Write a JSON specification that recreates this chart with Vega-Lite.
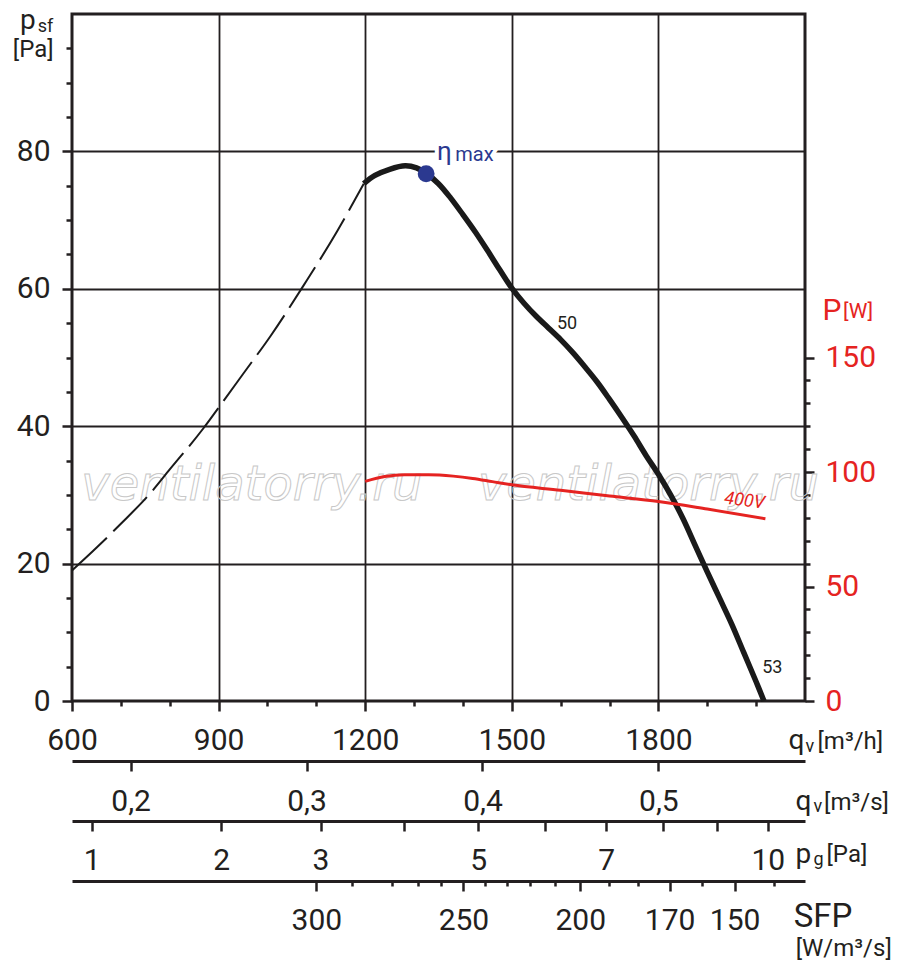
{
  "$schema": "https://vega.github.io/schema/vega-lite/v6.json",
  "width": 733,
  "height": 687,
  "autosize": "none",
  "padding": {"left": 72, "top": 14, "right": 95, "bottom": 266},
  "config": {
    "view": {"stroke": "#231f20", "strokeWidth": 3},
    "font": "Roboto",
    "axis": {
      "labelFont": "Roboto",
      "labelFontSize": 30,
      "labelColor": "#231f20",
      "tickColor": "#231f20",
      "tickWidth": 2.5,
      "domainColor": "#231f20",
      "domainWidth": 3,
      "gridColor": "#231f20",
      "gridWidth": 1.8
    }
  },
  "datasets": {
    "pressure": [
      {"q": 600, "p": 19.0, "seg": "dashed"},
      {"q": 650, "p": 22.3, "seg": "dashed"},
      {"q": 700, "p": 25.8, "seg": "dashed"},
      {"q": 761, "p": 30.3, "seg": "dashed"},
      {"q": 800, "p": 33.7, "seg": "dashed"},
      {"q": 869, "p": 39.7, "seg": "dashed"},
      {"q": 900, "p": 42.7, "seg": "dashed"},
      {"q": 950, "p": 47.6, "seg": "dashed"},
      {"q": 1006, "p": 53.1, "seg": "dashed"},
      {"q": 1074, "p": 60.5, "seg": "dashed"},
      {"q": 1142, "p": 68.3, "seg": "dashed"},
      {"q": 1197, "p": 75.3, "seg": "dashed"},
      {"q": 1197, "p": 75.3, "seg": "solid"},
      {"q": 1220, "p": 76.5, "seg": "solid"},
      {"q": 1250, "p": 77.4, "seg": "solid"},
      {"q": 1282, "p": 77.9, "seg": "solid"},
      {"q": 1305, "p": 77.6, "seg": "solid"},
      {"q": 1325, "p": 76.8, "seg": "solid"},
      {"q": 1350, "p": 75.3, "seg": "solid"},
      {"q": 1375, "p": 73.2, "seg": "solid"},
      {"q": 1400, "p": 70.8, "seg": "solid"},
      {"q": 1425, "p": 68.3, "seg": "solid"},
      {"q": 1450, "p": 65.6, "seg": "solid"},
      {"q": 1475, "p": 62.8, "seg": "solid"},
      {"q": 1500, "p": 60.1, "seg": "solid"},
      {"q": 1525, "p": 57.9, "seg": "solid"},
      {"q": 1550, "p": 56.0, "seg": "solid"},
      {"q": 1575, "p": 54.3, "seg": "solid"},
      {"q": 1600, "p": 52.6, "seg": "solid"},
      {"q": 1625, "p": 50.7, "seg": "solid"},
      {"q": 1650, "p": 48.6, "seg": "solid"},
      {"q": 1675, "p": 46.4, "seg": "solid"},
      {"q": 1700, "p": 43.9, "seg": "solid"},
      {"q": 1725, "p": 41.3, "seg": "solid"},
      {"q": 1750, "p": 38.6, "seg": "solid"},
      {"q": 1775, "p": 35.7, "seg": "solid"},
      {"q": 1800, "p": 33.0, "seg": "solid"},
      {"q": 1825, "p": 30.0, "seg": "solid"},
      {"q": 1850, "p": 26.6, "seg": "solid"},
      {"q": 1875, "p": 22.7, "seg": "solid"},
      {"q": 1900, "p": 18.8, "seg": "solid"},
      {"q": 1925, "p": 15.0, "seg": "solid"},
      {"q": 1950, "p": 11.2, "seg": "solid"},
      {"q": 1975, "p": 7.0, "seg": "solid"},
      {"q": 2000, "p": 2.8, "seg": "solid"},
      {"q": 2016, "p": 0, "seg": "solid"}
    ],
    "power": [
      {"q": 1200, "w": 95.9},
      {"q": 1240, "w": 98.0},
      {"q": 1280, "w": 98.8},
      {"q": 1330, "w": 98.8},
      {"q": 1380, "w": 98.2},
      {"q": 1420, "w": 97.2},
      {"q": 1460, "w": 95.8},
      {"q": 1500, "w": 94.4},
      {"q": 1600, "w": 92.0},
      {"q": 1647, "w": 90.8},
      {"q": 1700, "w": 89.5},
      {"q": 1800, "w": 87.1},
      {"q": 1900, "w": 83.8},
      {"q": 2019, "w": 79.6}
    ],
    "labels": [
      {"role": "wm", "q": 968, "p": 29.24, "text": "ventilatorry.ru"},
      {"role": "wm", "q": 1779.5, "p": 29.24, "text": "ventilatorry.ru"},
      {"role": "curve", "q": 1592.5, "p": 54.2, "text": "50"},
      {"role": "curve", "q": 2012.3, "p": 4.12, "text": "53"},
      {"role": "volt", "q": 1976, "p": 29.1, "text": "400V"},
      {"role": "eta", "q": 1346.8, "p": 78.79, "text": "η"},
      {"role": "etasub", "q": 1384.3, "p": 78.55, "text": "max"},
      {"role": "etapt", "q": 1324.7, "p": 76.75, "text": ""},
      {"role": "tbig", "q": 493.5, "p": 97.82, "text": "p"},
      {"role": "tsub", "q": 530, "p": 97.31, "text": "sf"},
      {"role": "tunit", "q": 479, "p": 93.74, "text": "[Pa]"},
      {"role": "tbig", "q": 2066, "p": -6.98, "text": "q"},
      {"role": "tsub", "q": 2101, "p": -7.37, "text": "v"},
      {"role": "tunit", "q": 2125.6, "p": -6.98, "text": "[m³/h]"},
      {"role": "tbig", "q": 2080.6, "p": -15.85, "text": "q"},
      {"role": "tsub", "q": 2117.4, "p": -16.15, "text": "v"},
      {"role": "tunit", "q": 2139, "p": -15.85, "text": "[m³/s]"},
      {"role": "tbig", "q": 2080.6, "p": -23.52, "text": "p"},
      {"role": "tsub", "q": 2117.4, "p": -23.9, "text": "g"},
      {"role": "tunit", "q": 2144, "p": -23.5, "text": "[Pa]"},
      {"role": "sfp", "q": 2077, "p": -32.83, "text": "SFP"},
      {"role": "tunit", "q": 2081, "p": -37.09, "text": "[W/m³/s]"},
      {"role": "pbig", "q": 2136, "p": 55.42, "text": "P"},
      {"role": "punit", "q": 2178, "p": 55.78, "text": "[W]"}
    ],
    "qs_ticks": [{"qs": 0.2}, {"qs": 0.3}, {"qs": 0.4}, {"qs": 0.5}],
    "pg_ticks": [
      {"pg": 1}, {"pg": 2}, {"pg": 3}, {"pg": 4}, {"pg": 5},
      {"pg": 6}, {"pg": 7}, {"pg": 8}, {"pg": 9}, {"pg": 10}
    ],
    "sfp_ticks": [
      {"q": 1100, "sfp": 300}, {"q": 1173, "sfp": 290}, {"q": 1255, "sfp": 280},
      {"q": 1309, "sfp": 270}, {"q": 1356, "sfp": 260}, {"q": 1401, "sfp": 250},
      {"q": 1446, "sfp": 240}, {"q": 1491, "sfp": 230}, {"q": 1538, "sfp": 220},
      {"q": 1589, "sfp": 210}, {"q": 1640, "sfp": 200}, {"q": 1698, "sfp": 190},
      {"q": 1759, "sfp": 180}, {"q": 1823, "sfp": 170}, {"q": 1890, "sfp": 160},
      {"q": 1956, "sfp": 150}, {"q": 2036, "sfp": 140}
    ]
  },
  "layer": [
    {
      "encoding": {
        "x": {
          "field": "q",
          "type": "quantitative",
          "scale": {"domain": [600, 2100], "nice": false, "zero": false},
          "axis": {
            "title": null,
            "values": [600, 700, 800, 900, 1000, 1100, 1200, 1300, 1400, 1500, 1600, 1700, 1800, 1900, 2000],
            "format": "d",
            "labelExpr": "datum.value % 300 === 0 ? datum.label : ''",
            "tickSize": {"condition": {"test": "datum.value % 300 === 0", "value": 10}, "value": 5},
            "labelPadding": 14,
            "domain": false,
            "grid": true,
            "gridOpacity": {"condition": {"test": "datum.value % 300 === 0 && datum.value > 600", "value": 1}, "value": 0},
            "labelFlush": false,
            "labelOverlap": false
          }
        },
        "y": {
          "field": "p",
          "type": "quantitative",
          "scale": {"domain": [0, 100], "nice": false, "zero": false},
          "axis": {
            "title": null,
            "values": [0, 5, 10, 15, 20, 25, 30, 35, 40, 45, 50, 55, 60, 65, 70, 75, 80, 85, 90, 95],
            "labelExpr": "datum.value % 20 === 0 ? datum.label : ''",
            "tickSize": {"condition": {"test": "datum.value % 20 === 0", "value": 10}, "value": 6},
            "labelPadding": 12,
            "domain": false,
            "grid": true,
            "gridOpacity": {"condition": {"test": "datum.value % 20 === 0 && datum.value > 0", "value": 1}, "value": 0},
            "labelFlush": false,
            "labelOverlap": false
          }
        }
      },
      "layer": [
        {
          "data": {"name": "labels"},
          "transform": [{"filter": "datum.role === 'wm'"}],
          "mark": {"type": "text", "align": "center", "baseline": "alphabetic", "font": "DejaVu Sans", "fontStyle": "italic", "fontSize": 48, "fillOpacity": 0, "stroke": "#c8c8c8", "strokeWidth": 1},
          "encoding": {"text": {"field": "text"}}
        },
        {
          "data": {"name": "pressure"},
          "transform": [{"filter": "datum.seg === 'dashed'"}],
          "mark": {"type": "line", "color": "#1a1a1a", "strokeWidth": 2, "strokeDash": [48, 9], "interpolate": "monotone"}
        },
        {
          "data": {"name": "pressure"},
          "transform": [{"filter": "datum.seg === 'solid'"}],
          "mark": {"type": "line", "color": "#1a1a1a", "strokeWidth": 5.5, "interpolate": "catmull-rom"}
        },
        {
          "data": {"name": "labels"},
          "transform": [{"filter": "datum.role === 'curve'"}],
          "mark": {"type": "text", "align": "left", "baseline": "alphabetic", "fontSize": 18, "color": "#231f20"},
          "encoding": {"text": {"field": "text"}}
        },
        {
          "data": {"name": "labels"},
          "transform": [{"filter": "datum.role === 'volt'"}],
          "mark": {"type": "text", "align": "center", "baseline": "middle", "fontSize": 18, "fontStyle": "italic", "angle": 7, "color": "#e52321"},
          "encoding": {"text": {"field": "text"}}
        },
        {
          "data": {"name": "labels"},
          "transform": [{"filter": "datum.role === 'eta'"}],
          "mark": {"type": "text", "align": "left", "baseline": "alphabetic", "fontSize": 26, "color": "white", "stroke": "white", "strokeWidth": 8},
          "encoding": {"text": {"field": "text"}}
        },
        {
          "data": {"name": "labels"},
          "transform": [{"filter": "datum.role === 'etasub'"}],
          "mark": {"type": "text", "align": "left", "baseline": "alphabetic", "fontSize": 20, "color": "white", "stroke": "white", "strokeWidth": 8},
          "encoding": {"text": {"field": "text"}}
        },
        {
          "data": {"name": "labels"},
          "transform": [{"filter": "datum.role === 'eta'"}],
          "mark": {"type": "text", "align": "left", "baseline": "alphabetic", "fontSize": 26, "color": "#2b3990"},
          "encoding": {"text": {"field": "text"}}
        },
        {
          "data": {"name": "labels"},
          "transform": [{"filter": "datum.role === 'etasub'"}],
          "mark": {"type": "text", "align": "left", "baseline": "alphabetic", "fontSize": 20, "color": "#2b3990"},
          "encoding": {"text": {"field": "text"}}
        },
        {
          "data": {"name": "labels"},
          "transform": [{"filter": "datum.role === 'etapt'"}],
          "mark": {"type": "point", "shape": "circle", "filled": true, "opacity": 1, "size": 283, "color": "#2b3990"}
        },
        {
          "data": {"name": "labels"},
          "transform": [{"filter": "datum.role === 'tbig'"}],
          "mark": {"type": "text", "align": "left", "baseline": "alphabetic", "fontSize": 28, "color": "#231f20"},
          "encoding": {"text": {"field": "text"}}
        },
        {
          "data": {"name": "labels"},
          "transform": [{"filter": "datum.role === 'tsub'"}],
          "mark": {"type": "text", "align": "left", "baseline": "alphabetic", "fontSize": 18, "color": "#231f20"},
          "encoding": {"text": {"field": "text"}}
        },
        {
          "data": {"name": "labels"},
          "transform": [{"filter": "datum.role === 'tunit'"}],
          "mark": {"type": "text", "align": "left", "baseline": "alphabetic", "fontSize": 24, "color": "#231f20"},
          "encoding": {"text": {"field": "text"}}
        },
        {
          "data": {"name": "labels"},
          "transform": [{"filter": "datum.role === 'sfp'"}],
          "mark": {"type": "text", "align": "left", "baseline": "alphabetic", "fontSize": 33, "color": "#231f20"},
          "encoding": {"text": {"field": "text"}}
        },
        {
          "data": {"name": "labels"},
          "transform": [{"filter": "datum.role === 'pbig'"}],
          "mark": {"type": "text", "align": "left", "baseline": "alphabetic", "fontSize": 30, "color": "#e52321"},
          "encoding": {"text": {"field": "text"}}
        },
        {
          "data": {"name": "labels"},
          "transform": [{"filter": "datum.role === 'punit'"}],
          "mark": {"type": "text", "align": "left", "baseline": "alphabetic", "fontSize": 21, "color": "#e52321"},
          "encoding": {"text": {"field": "text"}}
        }
      ]
    },
    {
      "data": {"name": "power"},
      "mark": {"type": "line", "color": "#e52321", "strokeWidth": 3, "interpolate": "monotone"},
      "encoding": {
        "x": {"field": "q", "type": "quantitative", "scale": {"domain": [600, 2100], "nice": false, "zero": false}, "axis": null},
        "y": {
          "field": "w",
          "type": "quantitative",
          "scale": {"domain": [0, 300], "nice": false, "zero": false},
          "axis": {
            "orient": "right",
            "title": null,
            "values": [0, 10, 20, 30, 40, 50, 60, 70, 80, 90, 100, 110, 120, 130, 140, 150],
            "labelExpr": "datum.value % 50 === 0 ? datum.label : ''",
            "tickSize": {"condition": {"test": "datum.value % 50 === 0", "value": 9}, "value": 5},
            "labelPadding": 11,
            "labelColor": "#e52321",
            "domain": false,
            "grid": false,
            "labelFlush": false,
            "labelOverlap": false
          }
        }
      }
    },
    {
      "data": {"name": "qs_ticks"},
      "mark": {"type": "point", "opacity": 0},
      "encoding": {
        "x": {
          "field": "qs",
          "type": "quantitative",
          "scale": {"domain": [0.166667, 0.583333], "nice": false, "zero": false},
          "axis": {
            "orient": "bottom",
            "offset": 60,
            "title": null,
            "values": [0.2, 0.3, 0.4, 0.5],
            "labelExpr": "replace(format(datum.value, '.1f'), '.', ',')",
            "tickSize": 10,
            "labelPadding": 15,
            "domain": true,
            "grid": false,
            "labelFlush": false,
            "labelOverlap": false
          }
        }
      }
    },
    {
      "data": {"name": "pg_ticks"},
      "mark": {"type": "point", "opacity": 0},
      "encoding": {
        "x": {
          "field": "pg",
          "type": "quantitative",
          "scale": {"type": "pow", "exponent": 0.5, "domain": [0.8788, 10.765], "nice": false, "zero": false},
          "axis": {
            "orient": "bottom",
            "offset": 120,
            "title": null,
            "values": [1, 2, 3, 4, 5, 6, 7, 8, 9, 10],
            "labelExpr": "indexof([4, 6, 8, 9], datum.value) >= 0 ? '' : datum.label",
            "tickSize": 10,
            "labelPadding": 14,
            "domain": true,
            "grid": false,
            "labelFlush": false,
            "labelOverlap": false
          }
        }
      }
    },
    {
      "data": {"name": "sfp_ticks"},
      "mark": {"type": "point", "opacity": 0},
      "encoding": {
        "x": {
          "field": "q",
          "type": "quantitative",
          "scale": {"domain": [600, 2100], "nice": false, "zero": false},
          "axis": {
            "orient": "bottom",
            "offset": 180,
            "title": null,
            "values": [1100, 1173, 1255, 1309, 1356, 1401, 1446, 1491, 1538, 1589, 1640, 1698, 1759, 1823, 1890, 1956, 2036],
            "labelExpr": "['300','','','','','250','','','','','200','','','170','','150',''][indexof([1100, 1173, 1255, 1309, 1356, 1401, 1446, 1491, 1538, 1589, 1640, 1698, 1759, 1823, 1890, 1956, 2036], datum.value)]",
            "tickSize": {"condition": {"test": "indexof([1100, 1401, 1640, 1823, 1956], datum.value) >= 0", "value": 10}, "value": 5},
            "labelPadding": 14,
            "domain": true,
            "grid": false,
            "labelFlush": false,
            "labelOverlap": false
          }
        }
      }
    }
  ],
  "resolve": {
    "scale": {"x": "independent", "y": "independent"},
    "axis": {"x": "independent", "y": "independent"}
  }
}
